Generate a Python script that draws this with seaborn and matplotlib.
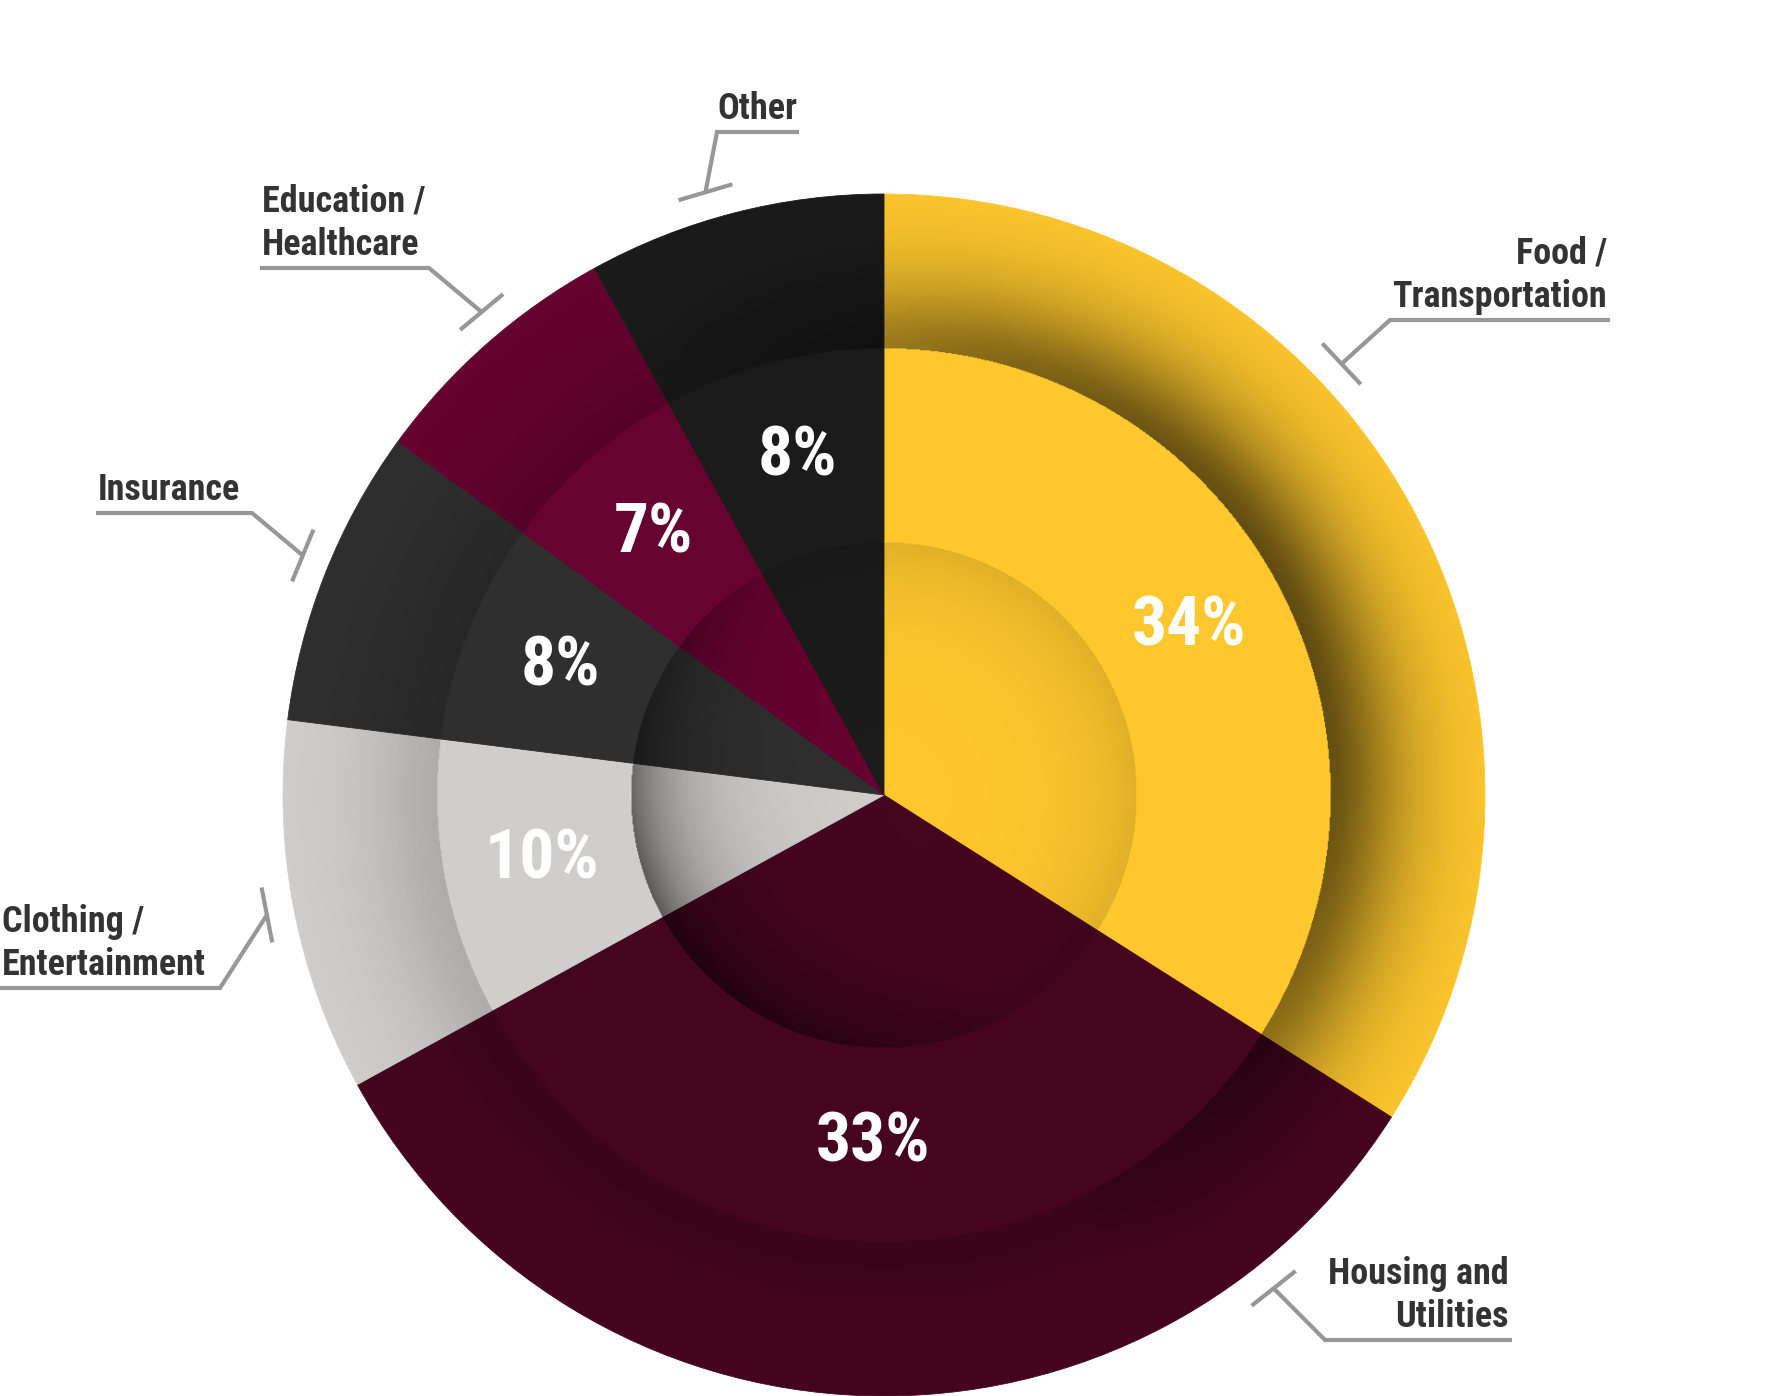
import numpy as np
import matplotlib
matplotlib.use("Agg")
import matplotlib.pyplot as plt
import seaborn as sns
from matplotlib import font_manager
from matplotlib.patches import Circle

# ---- data ----
categories = ["Food /\nTransportation", "Housing and\nUtilities", "Clothing /\nEntertainment",
              "Insurance", "Education /\nHealthcare", "Other"]
shares = [34, 33, 10, 8, 7, 8]
pct_labels = ["34%", "33%", "10%", "8%", "7%", "8%"]
colors = ["#FDC72D", "#46051F", "#CFCECC", "#2F2F2F", "#660330", "#1B1B1B"]

# callout layout (pixels, y measured from top): tick angle, elbow point, far end of underline
callout_angle = [43.3, -51.7, 191.0, 157.6, 129.8, 106.5]
callout_elbow = [(1390, 320), (1325, 1340), (220, 988), (252, 513), (429, 268), (717, 132)]
callout_end_x = [1610, 1512, 0, 96, 260, 799]

sns.set_style("white")
names = {f.name for f in font_manager.fontManager.ttflist}
cond = next((n for n in ["Liberation Sans Narrow", "Roboto Condensed", "Open Sans Condensed"]
             if n in names), "DejaVu Sans")
plt.rcParams["font.family"] = [cond, "DejaVu Sans"]

W, H = 1769, 1396
fig = plt.figure(figsize=(W / 100, H / 100), dpi=100)
ax = fig.add_axes([0, 0, 1, 1])

cx, cy = 884, H - 795
R = 601
r_mid = R * 447 / 601
r_in = R * 253 / 601

palette = sns.color_palette(colors)
for rad, z in [(R, 1), (r_mid, 1.1), (r_in, 1.2)]:
    wedges, _ = ax.pie(shares, colors=palette, startangle=90, counterclock=False,
                       radius=rad, center=(cx, cy), wedgeprops=dict(linewidth=0.6))
    for w in wedges:
        w.set_edgecolor(w.get_facecolor())
        w.set_zorder(z)

# soft shadows: outer ring inner edge, inner disk rim
n = 1300
xs = np.linspace(cx - R, cx + R, n)
ys = np.linspace(cy - R, cy + R, n)
X, Y = np.meshgrid(xs, ys)
rr = np.hypot(X - cx, Y - cy)
th = np.arctan2(Y - cy, X - cx)
alpha = np.zeros_like(rr)
s_out = 0.16 + 0.46 * np.clip(np.cos(th - np.radians(25)), 0, None) ** 0.8
m = (rr >= r_mid) & (rr <= R)
alpha[m] = (s_out * np.exp(-((rr - r_mid) / 75) ** 1.6))[m]
s_in = 0.12 + 0.45 * np.clip(np.cos(th - np.radians(210)), 0, None)
m2 = rr <= r_in
alpha[m2] = (s_in * np.exp(-(r_in - rr) / 55))[m2]
img = np.zeros((n, n, 4))
img[..., 3] = alpha
im = ax.imshow(img, extent=(cx - R, cx + R, cy - R, cy + R), origin="lower",
               interpolation="bilinear", zorder=3)
im.set_clip_path(Circle((cx, cy), R, transform=ax.transData))

# percentage labels in the middle ring
cum = np.cumsum([0] + shares[:-1])
total = sum(shares)
r_lab = 0.58 * R
for start, v, lab in zip(cum, shares, pct_labels):
    mid = np.radians(90 - 360 * (start + v / 2) / total)
    ax.text(cx + r_lab * np.cos(mid), cy + r_lab * np.sin(mid), lab, color="white",
            fontsize=50, fontweight="bold", ha="center", va="center", zorder=5)

# callouts
line_c = "#97979A"
for cat, ang, (ex, ey), endx in zip(categories, callout_angle, callout_elbow, callout_end_x):
    a = np.radians(ang)
    tx, ty = cx + 1.046 * R * np.cos(a), cy + 1.046 * R * np.sin(a)
    ey = H - ey
    ax.plot([tx, ex, endx], [ty, ey, ey], color=line_c, lw=3, solid_capstyle="butt",
            solid_joinstyle="miter", zorder=4)
    half = 28
    ux, uy = -np.sin(a), np.cos(a)
    ax.plot([tx - half * ux, tx + half * ux], [ty - half * uy, ty + half * uy],
            color=line_c, lw=3, solid_capstyle="butt", zorder=4)
    right = endx > ex
    if cat == "Other":
        xt, ha = ex, "left"
    elif right:
        xt, ha = endx - 3, "right"
    else:
        xt, ha = endx + 2, "left"
    lines = cat.split("\n")
    for i, ln in enumerate(reversed(lines)):
        ax.text(xt, ey + 13 + 43 * i, ln, color="#333333", fontsize=26, fontweight="bold",
                ha=ha, va="baseline", zorder=5)

ax.set_xlim(0, W)
ax.set_ylim(0, H)
ax.set_aspect("equal")
ax.axis("off")
fig.savefig("out.png", dpi=100, facecolor="white")
